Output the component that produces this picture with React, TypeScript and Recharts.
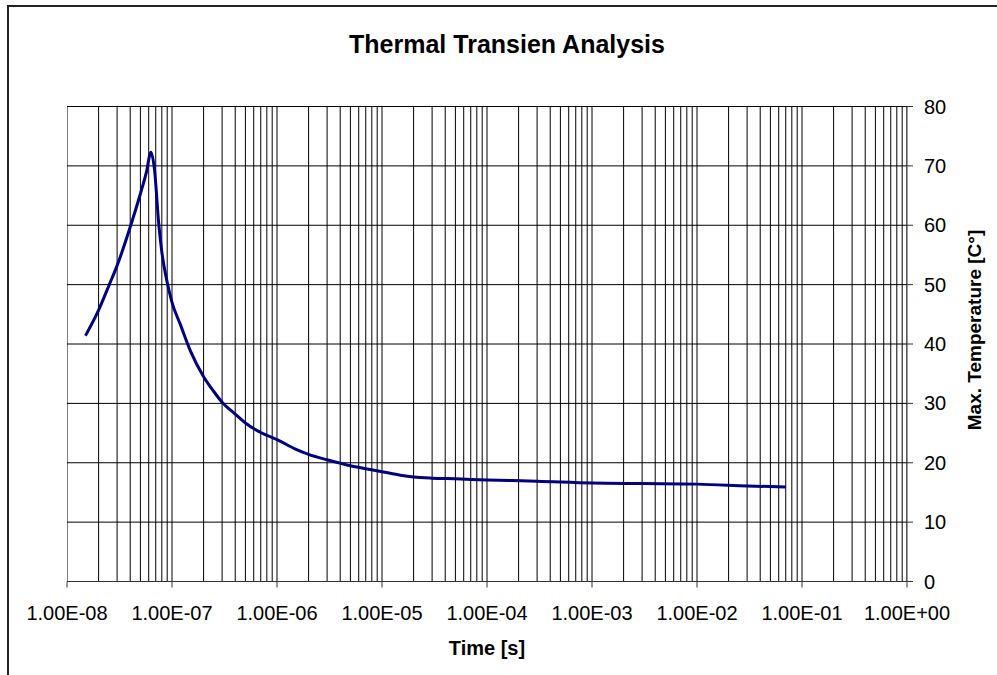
import React from 'react';
import { LineChart, Line, XAxis, YAxis, CartesianGrid, ReferenceLine, Label } from 'recharts';

const timeSeconds = [
  1.5e-8, 2e-8, 2.5e-8, 3e-8, 4e-8, 5e-8, 5.7e-8, 6.3e-8, 6.8e-8, 7.5e-8,
  8e-8, 9e-8, 1e-7, 1.2e-7, 1.5e-7, 2e-7, 2.5e-7, 3e-7, 4e-7, 5e-7,
  7e-7, 1e-6, 1.5e-6, 2e-6, 3e-6, 5e-6, 7e-6, 1e-5, 1.5e-5, 2e-5,
  3e-5, 5e-5, 1e-4, 3e-4, 1e-3, 3e-3, 1e-2, 3e-2, 7e-2,
];
const maxTemperature = [
  41.4, 45.7, 49.8, 53.2, 59.7, 65.3, 68.9, 72.3, 69.5, 60.0,
  55.5, 50.4, 47.0, 43.3, 38.8, 34.5, 32.0, 30.2, 28.2, 26.7,
  25.1, 23.9, 22.3, 21.4, 20.5, 19.5, 19.0, 18.5, 17.9, 17.6,
  17.4, 17.3, 17.1, 16.9, 16.6, 16.5, 16.4, 16.1, 15.9,
];
const decadeTicks = [1e-8, 1e-7, 1e-6, 1e-5, 1e-4, 1e-3, 1e-2, 1e-1, 1];
const minorMultipliers = [1, 2, 3, 4, 5, 6, 7, 8, 9];
const temperatureTicks = [0, 10, 20, 30, 40, 50, 60, 70, 80];

const data = timeSeconds.map((t, i) => ({ t, temp: maxTemperature[i] }));
const gridValues: number[] = [];
decadeTicks.slice(0, -1).forEach((d) => minorMultipliers.forEach((m) => gridValues.push(d * m)));
gridValues.push(1);

const FONT = '"Liberation Sans", Arial, sans-serif';

const formatExp = (v: number) => {
  const [mant, exp] = v.toExponential(2).toUpperCase().split('E');
  const n = parseInt(exp, 10);
  const sign = n < 0 ? '-' : '+';
  const abs = Math.abs(n).toString().padStart(2, '0');
  return `${mant}E${sign}${abs}`;
};

const YTitle = (props: any) => {
  const vb = props.viewBox || {};
  const cx = vb.x + vb.width / 2 + 22;
  const cy = vb.y + vb.height / 2 - 14;
  return (
    <text
      x={cx}
      y={cy}
      transform={`rotate(-90, ${cx}, ${cy})`}
      textAnchor="middle"
      dominantBaseline="central"
      fontFamily={FONT}
      fontWeight="bold"
      fontSize={19}
      fill="#000"
    >
      Max. Temperature [C°]
    </text>
  );
};

export default function App() {
  return (
    <div style={{ position: 'absolute', left: 0, top: 0, width: 997, height: 675, overflow: 'hidden', background: '#fff' }}>
      <div style={{ position: 'absolute', left: 7, top: 5, width: 1100, height: 800, border: '2px solid #222' }} />
      <div style={{ position: 'absolute', left: 0, top: 0 }}>
        <LineChart width={997} height={675} data={data} margin={{ top: 106.5, left: 67, right: 0, bottom: 0 }}>
          <text x={507} y={52.5} textAnchor="middle" fontFamily={FONT} fontWeight="bold" fontSize={25} fill="#000">
            Thermal Transien Analysis
          </text>
          <CartesianGrid vertical={false} stroke="#000" strokeWidth={1} />
          {gridValues.map((v) => (
            <ReferenceLine key={v} x={v} stroke="#000" strokeWidth={1} ifOverflow="hidden" />
          ))}
          <XAxis
            dataKey="t"
            type="number"
            scale="log"
            domain={[1e-8, 1]}
            allowDataOverflow
            ticks={decadeTicks}
            interval={0}
            tickFormatter={formatExp}
            height={93.5}
            tickSize={6}
            tickMargin={18}
            stroke="#333"
            tick={{ fontFamily: FONT, fontSize: 20, fill: '#000' }}
          >
            <Label
              value="Time [s]"
              position="insideBottom"
              offset={20}
              style={{ fontFamily: FONT, fontWeight: 'bold', fontSize: 20, fill: '#000' }}
            />
          </XAxis>
          <YAxis
            yAxisId={0}
            orientation="right"
            domain={[0, 80]}
            ticks={temperatureTicks}
            interval={0}
            width={90}
            tickSize={6}
            tickMargin={11}
            stroke="#333"
            tick={{ fontFamily: FONT, fontSize: 20, fill: '#000' }}
          >
            <Label content={<YTitle />} />
          </YAxis>
          <Line
            type="monotone"
            dataKey="temp"
            stroke="#000080"
            strokeWidth={3}
            dot={false}
            isAnimationActive={false}
          />
        </LineChart>
      </div>
    </div>
  );
}
